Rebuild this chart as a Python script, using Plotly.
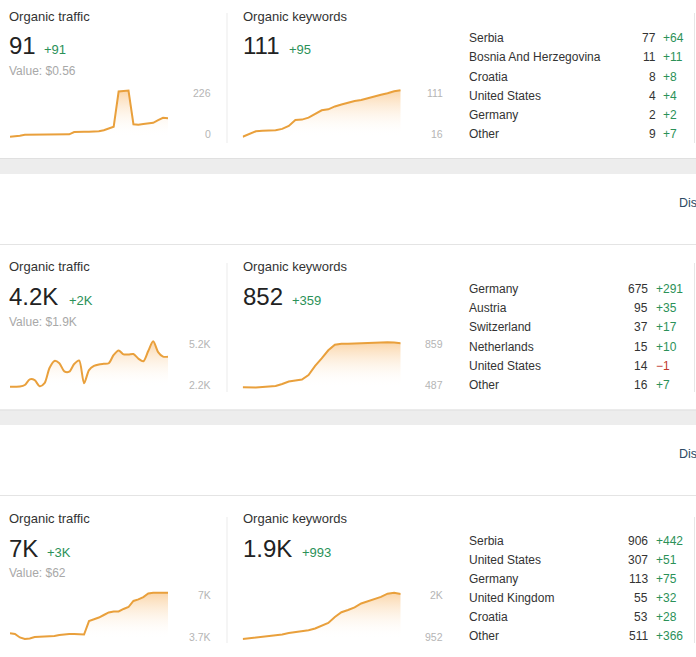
import plotly.graph_objects as go

W, H = 696, 657

# ---------------- data ----------------
traffic_1 = [1, 2, 6, 11, 11, 11, 12, 12, 12, 12, 13, 13, 13, 24, 26, 26, 26, 27, 28, 33,
             40, 50, 221, 224, 226, 62, 60, 63, 66, 69, 82, 93, 91]
keywords_1 = [16, 22, 27, 28, 29, 29, 32, 38, 50, 51, 55, 63, 70, 72, 78, 82, 86, 89, 91,
              95, 98, 102, 105, 109, 111]
traffic_2 = [2.22, 2.22, 2.23, 2.33, 2.70, 2.65, 2.25, 2.45, 3.44, 3.90, 3.75, 3.22, 3.20,
             3.70, 3.93, 2.45, 3.30, 3.57, 3.67, 3.71, 3.75, 4.29, 4.58, 4.33, 4.32, 4.35,
             4.05, 3.88, 4.55, 5.18, 4.48, 4.18, 4.18]
keywords_2 = [490, 487, 487, 492, 497, 499, 516, 536, 545, 553, 590, 665, 727, 793, 839,
              847, 847, 849, 857, 859, 855, 857, 859, 857, 852]
traffic_3 = [4.11, 4.06, 3.81, 3.70, 3.74, 3.84, 3.86, 3.87, 3.88, 3.91, 3.99, 4.04, 4.06,
             4.06, 4.06, 4.02, 4.98, 5.09, 5.23, 5.41, 5.59, 5.66, 5.66, 5.84, 5.98, 6.41,
             6.52, 6.69, 6.94, 7.0, 7.0, 7.0, 7.0]
keywords_3 = [952, 967, 983, 1000, 1017, 1033, 1052, 1083, 1107, 1116, 1144, 1181, 1235,
              1301, 1432, 1534, 1584, 1639, 1726, 1770, 1813, 1868, 1938, 1960, 1932]

traffic_title = "Organic traffic"
keywords_title = "Organic keywords"
traffic_big = ["91", "4.2K", "7K"]
traffic_change = ["+91", "+2K", "+3K"]
traffic_value = ["Value: $0.56", "Value: $1.9K", "Value: $62"]
traffic_max_label = ["226", "5.2K", "7K"]
traffic_min_label = ["0", "2.2K", "3.7K"]
keywords_big = ["111", "852", "1.9K"]
keywords_change = ["+95", "+359", "+993"]
keywords_max_label = ["111", "859", "2K"]
keywords_min_label = ["16", "487", "952"]

countries_1 = ["Serbia", "Bosnia And Herzegovina", "Croatia", "United States", "Germany", "Other"]
country_values_1 = ["77", "11", "8", "4", "2", "9"]
country_changes_1 = ["+64", "+11", "+8", "+4", "+2", "+7"]
countries_2 = ["Germany", "Austria", "Switzerland", "Netherlands", "United States", "Other"]
country_values_2 = ["675", "95", "37", "15", "14", "16"]
country_changes_2 = ["+291", "+35", "+17", "+10", "\u22121", "+7"]
countries_3 = ["Serbia", "United States", "Germany", "United Kingdom", "Croatia", "Other"]
country_values_3 = ["906", "307", "113", "55", "53", "511"]
country_changes_3 = ["+442", "+51", "+75", "+32", "+28", "+366"]

link_text = "Dis"

# ---------------- style / layout ----------------
FONT = "Liberation Sans, Arial, sans-serif"
LINE = "#e9a03c"
GREEN = "#2b9158"
RED = "#c0392b"

def px_x(p):
    return p / W

def px_y(p):
    return 1 - p / H

fig = go.Figure()

panel_y = [
    dict(title=16, big=45, chg=49.5, val=71, lmax=93.5, lmin=134, ctop=38.3, line_top=90.5, line_bot=136.8,
         kline_top=90.3, kline_bot=136.7, div=(13, 143), num_r=656, chg_l=662),
    dict(title=266, big=296.5, chg=300.8, val=321.7, lmax=344.3, lmin=385.2, ctop=289.3, line_top=341.3, line_bot=386.7,
         kline_top=342.3, kline_bot=387.5, div=(263, 392), num_r=648.5, chg_l=655),
    dict(title=518.3, big=548.3, chg=552, val=573.3, lmax=595, lmin=636.5, ctop=540.7, line_top=592.7, line_bot=639,
         kline_top=592.7, kline_bot=639, div=(517, 643), num_r=648.5, chg_l=655),
]
chg_x_traffic = [43.3, 68.3, 46.7]
chg_x_keywords = [288.3, 291.7, 301.7]

series = [
    (traffic_1, 0, "t"), (keywords_1, 0, "k"),
    (traffic_2, 1, "t"), (keywords_2, 1, "k"),
    (traffic_3, 2, "t"), (keywords_3, 2, "k"),
]

pad = 3
for i, (vals, p, kind) in enumerate(series, start=1):
    cfg = panel_y[p]
    if kind == "t":
        xl, xr = 10, 168
        top, bot = cfg["line_top"], cfg["line_bot"]
    else:
        xl, xr = 242.7, 400.7
        top, bot = cfg["kline_top"], cfg["kline_bot"]
    vmin, vmax = min(vals), max(vals)
    k = (vmax - vmin) / (bot - top)
    n = len(vals)
    shape = "spline" if (p == 1 and kind == "t") else "linear"
    fig.add_trace(go.Scatter(
        x=list(range(n)), y=vals, mode="lines",
        line=dict(color=LINE, width=2, shape=shape, smoothing=0.8),
        fill="tozeroy",
        fillgradient=dict(type="vertical",
                          colorscale=[[0, "rgba(255,255,255,0)"], [1, "rgba(246,168,75,0.48)"]],
                          start=vmin, stop=vmax),
        xaxis=f"x{i}", yaxis=f"y{i}", hoverinfo="skip", showlegend=False,
    ))
    ax = dict(visible=False, fixedrange=True, showgrid=False, zeroline=False)
    fig.layout[f"xaxis{i}"] = dict(ax, domain=[px_x(xl), px_x(xr)], range=[0, n - 1], anchor=f"y{i}")
    fig.layout[f"yaxis{i}"] = dict(ax, domain=[px_y(bot + pad), px_y(top - pad)],
                                   range=[vmin - pad * k, vmax + pad * k], anchor=f"x{i}")

ann = []

def text(x, y, s, size, color, xanchor="left"):
    # compensate for the annotation's inner padding
    x = x - 1.5 if xanchor == "left" else x + 1.5
    ann.append(dict(x=px_x(x), y=px_y(y), xref="paper", yref="paper", text=s, showarrow=False,
                    xanchor=xanchor, yanchor="middle",
                    font=dict(family=FONT, size=size, color=color)))

country_sets = [
    (countries_1, country_values_1, country_changes_1),
    (countries_2, country_values_2, country_changes_2),
    (countries_3, country_values_3, country_changes_3),
]

for p in range(3):
    cfg = panel_y[p]
    text(8, cfg["title"], traffic_title, 13, "#333333")
    text(8, cfg["big"], traffic_big[p], 24, "#222222")
    text(chg_x_traffic[p], cfg["chg"], traffic_change[p], 13, GREEN)
    text(8, cfg["val"], traffic_value[p], 12, "#a8a8a8")
    text(211, cfg["lmax"], traffic_max_label[p], 10.5, "#b5b5b5", "right")
    text(211, cfg["lmin"], traffic_min_label[p], 10.5, "#b5b5b5", "right")
    text(242.5, cfg["title"], keywords_title, 13, "#333333")
    text(242.5, cfg["big"], keywords_big[p], 24, "#222222")
    text(chg_x_keywords[p], cfg["chg"], keywords_change[p], 13, GREEN)
    text(443, cfg["lmax"], keywords_max_label[p], 10.5, "#b5b5b5", "right")
    text(443, cfg["lmin"], keywords_min_label[p], 10.5, "#b5b5b5", "right")
    names, nums, chgs = country_sets[p]
    for j in range(len(names)):
        y = cfg["ctop"] + 19.1 * j
        text(468, y, names[j], 12, "#333333")
        text(cfg["num_r"], y, nums[j], 12, "#333333", "right")
        text(cfg["chg_l"], y, chgs[j], 12, RED if chgs[j].startswith("\u2212") else GREEN)

text(678, 203.5, link_text, 12.5, "#2d4a63")
text(678, 454, link_text, 12.5, "#2d4a63")

shapes = []

def rect(x0, y0, x1, y1, color):
    shapes.append(dict(type="rect", xref="paper", yref="paper", x0=px_x(x0), x1=px_x(x1),
                       y0=px_y(y1), y1=px_y(y0), fillcolor=color, line=dict(width=0), layer="below"))

def hline(y, color):
    shapes.append(dict(type="line", xref="paper", yref="paper", x0=0, x1=1, y0=px_y(y), y1=px_y(y),
                       line=dict(color=color, width=1), layer="below"))

def vline(x, y0, y1, color):
    shapes.append(dict(type="line", xref="paper", yref="paper", x0=px_x(x), x1=px_x(x),
                       y0=px_y(y0), y1=px_y(y1), line=dict(color=color, width=1), layer="below"))

rect(0, 158, W, 174, "#ededed")
hline(158.5, "#e0e0e0")
rect(0, 409.5, W, 425, "#ededed")
hline(410, "#e0e0e0")
hline(244.5, "#e4e4e4")
hline(495.5, "#e4e4e4")
for p in range(3):
    d0, d1 = panel_y[p]["div"]
    vline(227, d0, d1, "#ebebeb")
    vline(694.5, d0, d1, "#e6e6e6")

fig.update_layout(
    width=W, height=H,
    margin=dict(l=0, r=0, t=0, b=0),
    paper_bgcolor="white", plot_bgcolor="rgba(0,0,0,0)",
    annotations=ann, shapes=shapes,
    showlegend=False,
)

fig.write_html("out.html")
